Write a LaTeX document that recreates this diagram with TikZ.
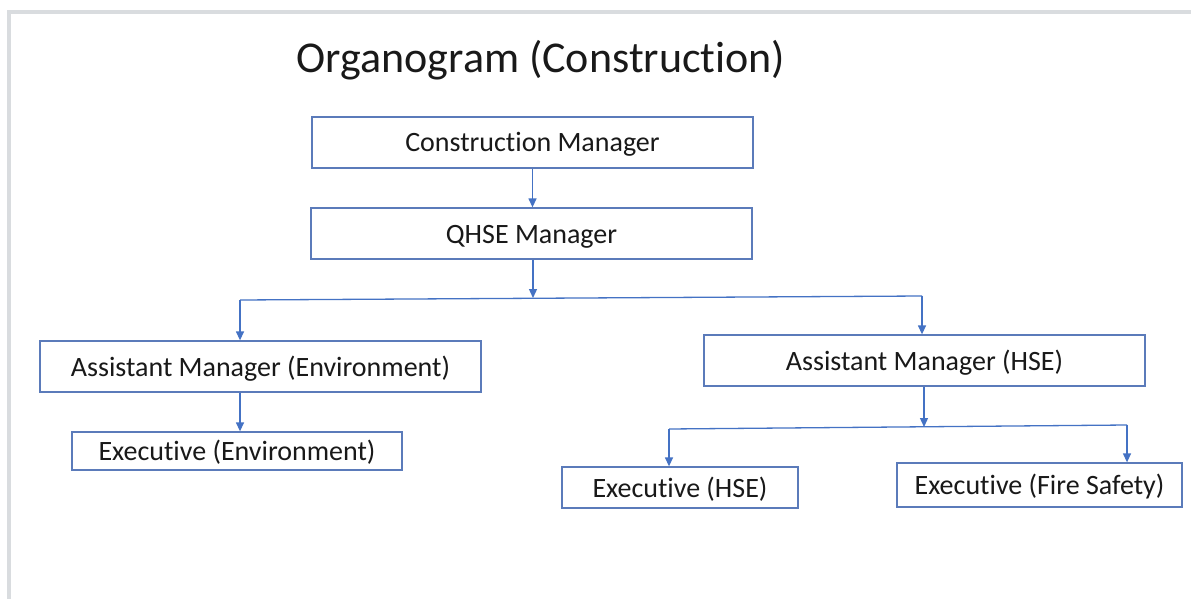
\documentclass[tikz,border=0pt]{standalone}
\usepackage{fontspec}
\setmainfont{Carlito}[RawFeature={-liga;-clig;-dlig;-calt}]
\usetikzlibrary{arrows.meta}
\definecolor{boxline}{HTML}{5B7BBA}
\definecolor{arrowc}{HTML}{4472C4}
\definecolor{frame}{HTML}{D9DCDF}
\tikzset{
  orgbox/.style={draw=boxline, line width=1.3pt, inner sep=0pt, align=center,
    text height=21pt, text depth=2pt,
    font=\fontsize{28}{34}\selectfont, text=black!90},
  conn/.style={draw=arrowc, line width=1.3pt, -{Triangle[length=9pt,width=8pt]}},
  bus/.style={draw=arrowc, line width=1.3pt}
}
\begin{document}
\begin{tikzpicture}[x=1pt,y=-1pt]
\useasboundingbox (0,0) rectangle (1191,599);
\fill[white] (0,0) rectangle (1191,599);
\draw[frame, line width=4pt] (9,599) -- (9,12) -- (1191,12);

\node[font=\fontsize{44}{52}\selectfont, text=black!90] (title) at (541,60) {Organogram (Construction)};

\node[orgbox, minimum width=441pt, minimum height=51pt] (cm) at (532.5,142.5) {Construction Manager};
\node[orgbox, minimum width=441pt, minimum height=51pt] (qhse) at (531.5,233.5) {QHSE Manager};
\node[orgbox, minimum width=441pt, minimum height=51pt] (amenv) at (260.5,366.5) {Assistant Manager (Environment)};
\node[orgbox, minimum width=441pt, minimum height=51pt] (amhse) at (924.5,360.5) {Assistant Manager (HSE)};
\node[orgbox, minimum width=330pt, minimum height=38pt] (exenv) at (237,451) {Executive (Environment)};
\node[orgbox, minimum width=236pt, minimum height=41pt] (exhse) at (680,487.5) {Executive (HSE)};
\node[orgbox, minimum width=285pt, minimum height=44pt] (exfire) at (1039.5,485) {Executive (Fire Safety)};

\coordinate (b1m) at (533,298);
\coordinate (b1l) at (240,300);
\coordinate (b1r) at (922,296);
\coordinate (b2m) at (924,427);
\coordinate (b2l) at (669,429);
\coordinate (b2r) at (1127,425);

\draw[conn] (cm.south) -- (cm.south |- qhse.north);
\draw[conn] (qhse.south -| b1m) -- (b1m);
\draw[bus] (b1l) -- (b1r);
\draw[conn] (b1l) -- (b1l |- amenv.north);
\draw[conn] (b1r) -- (b1r |- amhse.north);
\draw[conn] (b1l |- amenv.south) -- (b1l |- exenv.north);
\draw[conn] (amhse.south -| b2m) -- (b2m);
\draw[bus] (b2l) -- (b2r);
\draw[conn] (b2l) -- (b2l |- exhse.north);
\draw[conn] (b2r) -- (b2r |- exfire.north);
\end{tikzpicture}
\end{document}
